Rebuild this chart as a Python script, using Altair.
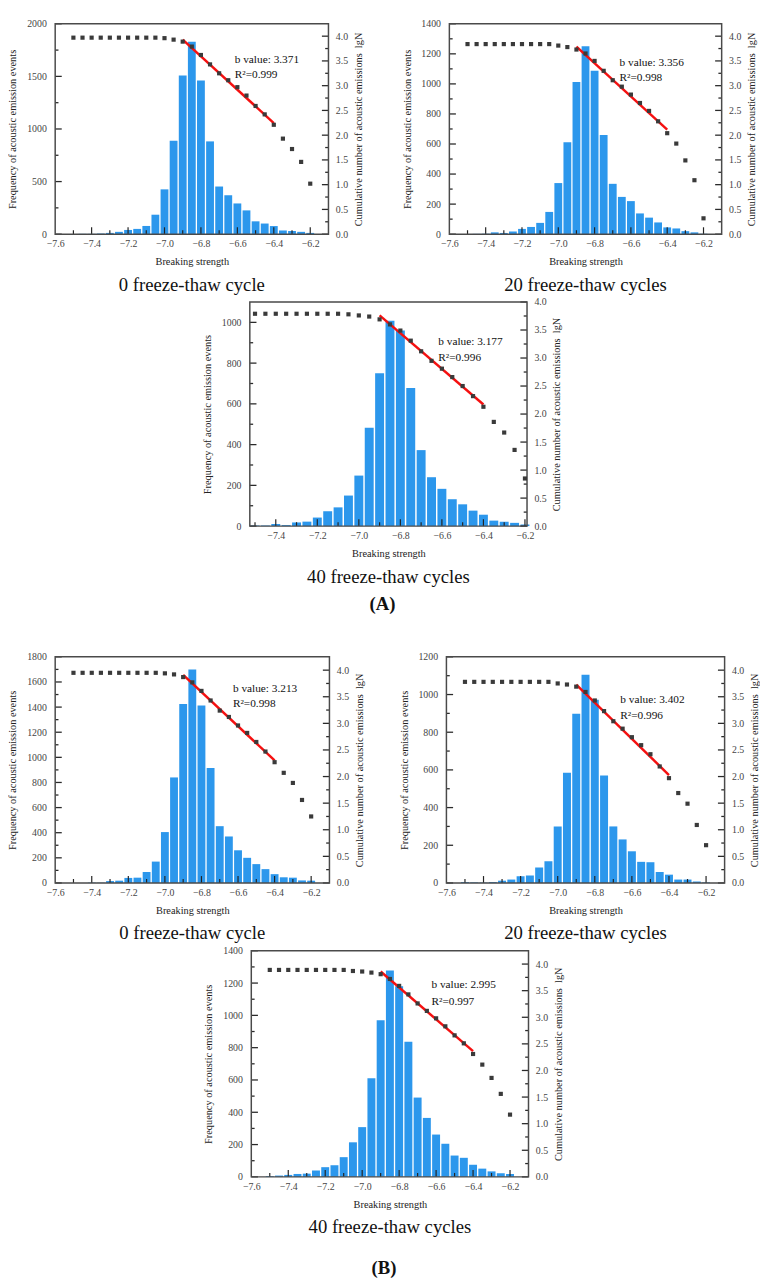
import altair as alt
import pandas as pd
import numpy as np

SERIF = "Liberation Serif"
BLUE = "#2C97EC"
DARK = "#3A3A3A"
RED = "#F51010"
AXC = "#2A2A2A"
FRAME = "#4A4A4A"

# breaking-strength bins (bar centres / cumulative points)
BINS = [-7.50, -7.45, -7.40, -7.35, -7.30, -7.25, -7.20, -7.15, -7.10, -7.05,
        -7.00, -6.95, -6.90, -6.85, -6.80, -6.75, -6.70, -6.65, -6.60, -6.55,
        -6.50, -6.45, -6.40, -6.35, -6.30, -6.25, -6.20]
FIT_X = [-6.90, -6.40]
BAR_HALF = 0.0215

# ---- (A) ----
A0_FREQ = [0, 3, 3, 6, 12, 22, 40, 50, 78, 185, 426, 888, 1508, 1830, 1460, 882,
           453, 370, 292, 226, 122, 101, 77, 35, 30, 22, 12]
A0_CUM = [3.97, 3.97, 3.97, 3.97, 3.97, 3.97, 3.97, 3.97, 3.97, 3.97, 3.96, 3.93,
          3.89, 3.79, 3.62, 3.43, 3.25, 3.11, 2.97, 2.80, 2.59, 2.42, 2.21, 1.93,
          1.72, 1.46, 1.02]
A0_B, A0_R2, A0_FIT0 = 3.371, "0.999", 3.93

A20_FREQ = [0, 2, 3, 12, 8, 18, 35, 48, 75, 148, 340, 612, 1012, 1250, 1088, 660,
            335, 248, 220, 138, 110, 78, 45, 38, 20, 12, 2]
A20_CUM = [3.84, 3.84, 3.84, 3.84, 3.84, 3.84, 3.84, 3.84, 3.84, 3.84, 3.81, 3.78,
           3.73, 3.65, 3.50, 3.30, 3.11, 2.98, 2.82, 2.65, 2.49, 2.28, 2.04, 1.83,
           1.49, 1.09, 0.32]
A20_B, A20_R2, A20_FIT0 = 3.356, "0.998", 3.79

A40_FREQ = [3, 3, 10, 5, 18, 22, 42, 73, 92, 150, 248, 483, 750, 1008, 960, 678,
            373, 240, 183, 132, 107, 76, 56, 27, 22, 16, 8]
A40_CUM = [3.79, 3.79, 3.79, 3.79, 3.79, 3.79, 3.79, 3.79, 3.79, 3.78, 3.76, 3.74,
           3.69, 3.60, 3.49, 3.31, 3.12, 2.95, 2.81, 2.66, 2.50, 2.32, 2.13, 1.86,
           1.67, 1.36, 0.85]
A40_B, A40_R2, A40_FIT0 = 3.177, "0.996", 3.76

# ---- (B) ----
B0_FREQ = [0, 0, 3, 2, 15, 18, 40, 42, 87, 170, 405, 840, 1425, 1700, 1412, 915,
           452, 370, 260, 200, 150, 110, 70, 45, 42, 20, 18]
B0_CUM = [3.95, 3.95, 3.95, 3.95, 3.95, 3.95, 3.95, 3.95, 3.95, 3.95, 3.94, 3.92,
          3.87, 3.77, 3.61, 3.43, 3.24, 3.12, 2.96, 2.82, 2.65, 2.47, 2.27, 2.07,
          1.88, 1.56, 1.25]
B0_B, B0_R2, B0_FIT0 = 3.213, "0.998", 3.91

B20_FREQ = [5, 3, 2, 5, 12, 18, 35, 40, 82, 115, 300, 585, 898, 1105, 972, 570,
            300, 231, 168, 112, 110, 58, 44, 18, 18, 8, 3]
B20_CUM = [3.78, 3.78, 3.78, 3.78, 3.78, 3.78, 3.78, 3.78, 3.78, 3.78, 3.75, 3.73,
           3.69, 3.59, 3.43, 3.23, 3.04, 2.90, 2.74, 2.59, 2.42, 2.19, 1.97, 1.69,
           1.49, 1.09, 0.71]
B20_B, B20_R2, B20_FIT0 = 3.402, "0.996", 3.73

B40_FREQ = [5, 8, 12, 18, 20, 40, 60, 72, 122, 214, 308, 611, 970, 1278, 1181, 836,
            491, 365, 262, 205, 132, 118, 75, 51, 34, 22, 18]
B40_CUM = [3.89, 3.89, 3.89, 3.89, 3.89, 3.89, 3.89, 3.89, 3.89, 3.87, 3.86, 3.84,
           3.81, 3.72, 3.59, 3.43, 3.26, 3.12, 2.98, 2.83, 2.66, 2.51, 2.31, 2.11,
           1.86, 1.56, 1.17]
B40_B, B40_R2, B40_FIT0 = 2.995, "0.997", 3.86

X_LABELS_WIDE = [-7.6, -7.4, -7.2, -7.0, -6.8, -6.6, -6.4, -6.2]
X_LABELS_NARROW = [-7.4, -7.2, -7.0, -6.8, -6.6, -6.4, -6.2]
RIGHT_LABELS = [0.0, 0.5, 1.0, 1.5, 2.0, 2.5, 3.0, 3.5, 4.0]

LEFT_TITLE = "Frequency of acoustic emission events"
RIGHT_TITLE = "Cumulative number of acoustic emissions\u2002lgN"


def panel(freq, cum, b, r2, fit0, subtitle, w, h, xdom, xlabels,
          lmax, lstep, rmax, ann):
    df = pd.DataFrame({"x": BINS, "freq": freq, "cum": cum})
    df["x0"] = df["x"] - BAR_HALF
    df["x1"] = df["x"] + BAR_HALF
    fit = pd.DataFrame({"x": FIT_X,
                        "y": [fit0, fit0 - b * (FIT_X[1] - FIT_X[0])]})
    xspan = xdom[1] - xdom[0]

    common = dict(tickSize=0, grid=False, domain=False, labelFlush=False)
    xs = alt.Scale(domain=xdom, nice=False, zero=False)
    xaxis = alt.Axis(values=xlabels, format=".1f", title="Breaking strength",
                     labelPadding=5, titlePadding=8, **common)
    ls = alt.Scale(domain=[0, lmax], nice=False)
    lvals = list(range(0, lmax + 1, lstep))
    laxis = alt.Axis(values=lvals, format="d", title=LEFT_TITLE,
                     labelPadding=9, titlePadding=9, **common)
    rs = alt.Scale(domain=[0, rmax], nice=False)
    raxis = alt.Axis(orient="right", values=RIGHT_LABELS, format=".1f",
                     title=RIGHT_TITLE, titleAngle=270, titleBaseline="top",
                     labelPadding=7, titlePadding=6, **common)

    bars = alt.Chart(df).mark_bar(color=BLUE).encode(
        x=alt.X("x0:Q", scale=xs, axis=xaxis),
        x2="x1:Q",
        y=alt.Y("freq:Q", scale=ls, axis=laxis, stack=None),
        y2=alt.datum(0),
    )

    # inward ticks on the bottom axis
    xt_all = [round(v, 2) for v in np.arange(-7.5, -6.19, 0.1)]
    xt_major = [v for v in xt_all if any(abs(v - l) < 1e-6 for l in xlabels)]
    xt_minor = [v for v in xt_all if v not in xt_major]
    xmaj = alt.Chart(pd.DataFrame({"x": xt_major})).mark_rule(
        color="#222", strokeWidth=1.2).encode(
        x=alt.X("x:Q", scale=xs, axis=xaxis), y=alt.value(h), y2=alt.value(h - 7))
    xmin = alt.Chart(pd.DataFrame({"x": xt_minor})).mark_rule(
        color="#222", strokeWidth=1.2).encode(
        x=alt.X("x:Q", scale=xs, axis=xaxis), y=alt.value(h), y2=alt.value(h - 4))

    # inward ticks on the left and right axes (positioned through the scales)
    lminor = [v + lstep / 2 for v in lvals if v + lstep / 2 < lmax]
    ltk = pd.DataFrame({"v": lvals + lminor,
                        "len": [0.024] * len(lvals) + [0.012] * len(lminor)})
    ltk["a"] = xdom[0]
    ltk["b"] = xdom[0] + ltk["len"] * xspan
    lticks = alt.Chart(ltk).mark_rule(color=AXC, strokeWidth=1.3).encode(
        x=alt.X("a:Q", scale=xs, axis=xaxis), x2="b:Q",
        y=alt.Y("v:Q", scale=ls, axis=None))
    rminor = [v + 0.25 for v in RIGHT_LABELS if v + 0.25 < rmax]
    rtk = pd.DataFrame({"v": RIGHT_LABELS + rminor,
                        "len": [0.024] * len(RIGHT_LABELS) + [0.012] * len(rminor)})
    rtk["a"] = xdom[1]
    rtk["b"] = xdom[1] - rtk["len"] * xspan
    rticks = alt.Chart(rtk).mark_rule(color=AXC, strokeWidth=1.3).encode(
        x=alt.X("a:Q", scale=xs, axis=xaxis), x2="b:Q",
        y=alt.Y("v:Q", scale=rs, axis=None))

    # plot frame
    fr = pd.DataFrame({"a": [xdom[0]], "b": [xdom[1]], "lo": [0], "hi": [lmax]})
    frame = alt.Chart(fr).mark_rect(
        filled=False, stroke=FRAME, strokeWidth=1.5).encode(
        x=alt.X("a:Q", scale=xs, axis=xaxis), x2="b:Q",
        y=alt.Y("lo:Q", scale=ls, axis=None), y2="hi:Q")

    line = alt.Chart(fit).mark_line(color=RED, strokeWidth=2.5).encode(
        x=alt.X("x:Q", scale=xs, axis=xaxis),
        y=alt.Y("y:Q", scale=rs, axis=None),
    )
    pts = alt.Chart(df).mark_square(color=DARK, size=18, opacity=1).encode(
        x=alt.X("x:Q", scale=xs, axis=xaxis),
        y=alt.Y("cum:Q", scale=rs, axis=raxis),
    )
    t1 = alt.Chart(pd.DataFrame({"t": [f"b value: {b:.3f}"]})).mark_text(
        align="left", baseline="middle", font=SERIF, fontSize=11.5,
        color="#111").encode(x=alt.value(ann[0] * w), y=alt.value(ann[1] * h),
                             text="t:N")
    t2 = alt.Chart(pd.DataFrame({"t": [f"R\u00b2={r2}"]})).mark_text(
        align="left", baseline="middle", font=SERIF, fontSize=11.5,
        color="#111").encode(x=alt.value(ann[0] * w), y=alt.value(ann[2] * h),
                             text="t:N")

    return alt.layer(bars, xmaj, xmin, lticks, rticks, frame, line, pts,
                     t1, t2).resolve_scale(y="independent").properties(
        width=w, height=h,
        title=alt.TitleParams(subtitle, orient="bottom", anchor="middle",
                              frame="group", fontSize=19, font=SERIF,
                              fontWeight="normal", color="#111", offset=9))


WIDE = [-7.6, -6.1]
A0 = panel(A0_FREQ, A0_CUM, A0_B, A0_R2, A0_FIT0, "0 freeze-thaw cycle",
           278, 214, WIDE, X_LABELS_WIDE, 2000, 500, 4.25, (0.657, 0.17, 0.245))
A20 = panel(A20_FREQ, A20_CUM, A20_B, A20_R2, A20_FIT0, "20 freeze-thaw cycles",
            277, 214, WIDE, X_LABELS_WIDE, 1400, 200, 4.25, (0.625, 0.187, 0.26))
A40 = panel(A40_FREQ, A40_CUM, A40_B, A40_R2, A40_FIT0, "40 freeze-thaw cycles",
            282, 228, [-7.525, -6.19], X_LABELS_NARROW, 1100, 200, 4.0,
            (0.68, 0.18, 0.25))
B0 = panel(B0_FREQ, B0_CUM, B0_B, B0_R2, B0_FIT0, "0 freeze-thaw cycle",
           279, 230, WIDE, X_LABELS_WIDE, 1800, 200, 4.25, (0.648, 0.142, 0.21))
B20 = panel(B20_FREQ, B20_CUM, B20_B, B20_R2, B20_FIT0, "20 freeze-thaw cycles",
            283, 230, WIDE, X_LABELS_WIDE, 1200, 200, 4.25, (0.625, 0.19, 0.26))
B40 = panel(B40_FREQ, B40_CUM, B40_B, B40_R2, B40_FIT0, "40 freeze-thaw cycles",
            282, 230, WIDE, X_LABELS_WIDE, 1400, 200, 4.25, (0.65, 0.15, 0.225))

groupA = alt.vconcat(
    alt.hconcat(A0, A20, spacing=39), A40, spacing=2, center=True,
    title=alt.TitleParams("(A)", orient="bottom", anchor="middle", fontSize=19,
                          font=SERIF, fontWeight="bold", color="#111", offset=9))
groupB = alt.vconcat(
    alt.hconcat(B0, B20, spacing=35), B40, spacing=2, center=True,
    title=alt.TitleParams("(B)", orient="bottom", anchor="middle", fontSize=19,
                          font=SERIF, fontWeight="bold", color="#111", offset=22))

chart = alt.vconcat(groupA, groupB, spacing=38).properties(
    padding=0
).configure_view(stroke=None).configure_axis(
    labelFont=SERIF, titleFont=SERIF, labelColor="#444", titleColor="#222",
    labelFontSize=10, titleFontSize=10.5, titleFontWeight="normal"
).configure_title(font=SERIF)

chart.save("out.html", embed_options={"renderer": "svg", "actions": False})
